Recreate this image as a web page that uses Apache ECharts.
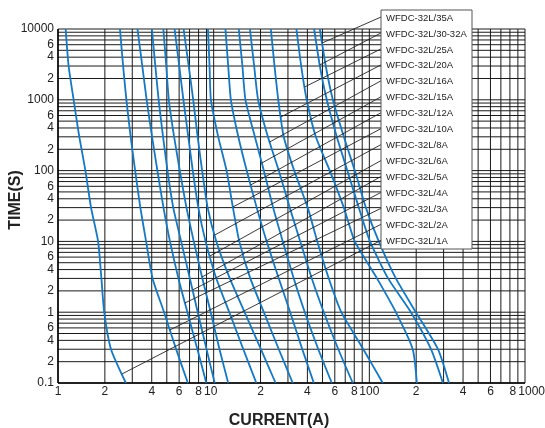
<!DOCTYPE html>
<html>
<head>
<meta charset="utf-8">
<script src="https://cdn.jsdelivr.net/npm/echarts@6/dist/echarts.min.js"></script>
<style>
  html, body { margin: 0; padding: 0; background: #fff; }
  #fuseChart { width: 545px; height: 428px; }
</style>
</head>
<body>
<div id="fuseChart"></div>
<script>
const timeLevels = [10000, 3000, 1000, 300, 100, 30, 10, 3, 1, 0.3, 0.1];

const fuse1A   = [1.12, 1.17, 1.26, 1.37, 1.50, 1.63, 1.81, 1.90, 1.98, 2.19, 2.73];
const fuse2A   = [2.50, 2.62, 2.75, 2.93, 3.13, 3.38, 3.68, 4.05, 4.80, 5.74, 6.83];
const fuse3A   = [3.24, 3.48, 3.71, 4.02, 4.35, 4.76, 5.24, 5.94, 6.78, 7.86, 8.97];
const fuse4A   = [4.01, 4.22, 4.43, 4.73, 5.05, 5.50, 6.18, 7.03, 7.90, 9.00, 10.15];
const fuse5A   = [4.75, 4.96, 5.15, 5.57, 6.06, 6.69, 7.45, 8.46, 9.57, 10.9, 12.4];
const fuse6A   = [5.61, 6.01, 6.39, 6.87, 7.34, 7.97, 8.87, 10.4, 12.6, 15.5, 18.8];
const fuse8A   = [6.41, 6.91, 7.39, 7.89, 8.43, 9.15, 10.4, 12.7, 15.8, 20.1, 25.0];
const fuse10A  = [9.19, 9.41, 9.60, 10.7, 12.1, 13.3, 14.6, 17.2, 21.0, 26.2, 32.2];
const fuse12A  = [11.9, 12.4, 12.9, 14.4, 16.3, 18.9, 21.9, 26.2, 31.0, 37.1, 44.0];
const fuse15A  = [14.5, 15.3, 16.0, 18.4, 21.0, 24.1, 27.8, 32.7, 38.5, 47.0, 57.4];
const fuse16A  = [17.1, 18.2, 19.3, 22.3, 26.2, 30.8, 36.0, 42.7, 51.0, 63.2, 78.3];
const fuse20A  = [23.3, 24.6, 26.0, 28.2, 32.9, 40.2, 46.3, 54.9, 66.1, 91.5, 122];
const fuse25A  = [34.0, 36.5, 39.6, 45.3, 55.7, 68.6, 80.7, 112, 148, 190, 202];
const fuse32A  = [44.2, 48.1, 53.3, 61.8, 72.2, 85.6, 101, 132, 185, 249, 297];
const fuse35A  = [48.1, 52.5, 58.3, 68.6, 80.7, 95.0, 115, 148, 199, 276, 325];

// legend rows, top to bottom, with the curve each leader points at
const labelNames = [
  'WFDC-32L/35A', 'WFDC-32L/30-32A', 'WFDC-32L/25A', 'WFDC-32L/20A', 'WFDC-32L/16A',
  'WFDC-32L/15A', 'WFDC-32L/12A', 'WFDC-32L/10A', 'WFDC-32L/8A', 'WFDC-32L/6A',
  'WFDC-32L/5A', 'WFDC-32L/4A', 'WFDC-32L/3A', 'WFDC-32L/2A', 'WFDC-32L/1A'
];
const labelCurves = [fuse35A, fuse32A, fuse25A, fuse20A, fuse16A, fuse15A, fuse12A,
  fuse10A, fuse8A, fuse6A, fuse5A, fuse4A, fuse3A, fuse2A, fuse1A];
// time (s) where each leader line meets its curve
const leaderTimes = [6340, 3100, 1517, 571, 253, 128, 62.6, 30.6, 12.3, 6.2, 3.14, 2.06, 1.35, 0.56, 0.134];

const xTickValues = [1, 2, 4, 6, 8, 10, 20, 40, 60, 80, 100, 200, 400, 600, 800, 1000];
const xTickText   = ['1', '2', '4', '6', '8', '10', '2', '4', '6', '8', '100', '2', '4', '6', '8', '1000'];
const yTickValues = [0.1, 0.2, 0.4, 0.6, 1, 2, 4, 6, 10, 20, 40, 60, 100, 200, 400, 600, 1000, 2000, 4000, 6000, 10000];
const yTickText   = ['0.1', '2', '4', '6', '1', '2', '4', '6', '10', '2', '4', '6', '100', '2', '4', '6', '1000', '2', '4', '6', '10000'];

const chart = echarts.init(document.getElementById('fuseChart'));

const allCurves = [fuse1A, fuse2A, fuse3A, fuse4A, fuse5A, fuse6A, fuse8A, fuse10A,
  fuse12A, fuse15A, fuse16A, fuse20A, fuse25A, fuse32A, fuse35A];

chart.setOption({
  animation: false,
  backgroundColor: '#fff',
  grid: { left: 58, top: 29, width: 467, height: 354 },
  xAxis: {
    type: 'log', logBase: 10, min: 1, max: 1000,
    axisLine: { show: false }, axisTick: { show: false },
    axisLabel: { show: false }, splitLine: { show: false }
  },
  yAxis: {
    type: 'log', logBase: 10, min: 0.1, max: 10000,
    axisLine: { show: false }, axisTick: { show: false },
    axisLabel: { show: false }, splitLine: { show: false }
  },
  series: allCurves.map((vals, k) => ({
    type: 'line',
    name: 'c' + k,
    data: timeLevels.map((t, i) => [vals[i], t]),
    smooth: 0.2,
    showSymbol: false,
    silent: true,
    z: 3,
    lineStyle: { color: '#1478c4', width: 1.8 }
  }))
});

const px = (v) => chart.convertToPixel({ gridIndex: 0 }, v);

// current on a curve at time t (log-log interpolation between read levels)
function currentAt(vals, t) {
  const lt = Math.log10(t);
  for (let i = 0; i < timeLevels.length - 1; i++) {
    const a = Math.log10(timeLevels[i]), b = Math.log10(timeLevels[i + 1]);
    if (lt <= a && lt >= b) {
      const f = (a - lt) / (a - b);
      return Math.pow(10, Math.log10(vals[i]) + f * (Math.log10(vals[i + 1]) - Math.log10(vals[i])));
    }
  }
  return vals[vals.length - 1];
}

const g = [];
const lineCol = '#1a1a1a';
const font = '12px "Liberation Sans", Arial, sans-serif';

// grid lines 1..9 per decade
const gridX = [], gridY = [];
for (let d = 1; d <= 100; d *= 10) for (let m = 1; m <= 9; m++) gridX.push(m * d);
gridX.push(1000);
for (let d = 0.1; d <= 1000; d *= 10) for (let m = 1; m <= 9; m++) gridY.push(+(m * d).toPrecision(3));
gridY.push(10000);

gridX.forEach(v => {
  const a = px([v, 0.1]), b = px([v, 10000]);
  g.push({ type: 'line', z: 1, silent: true,
    shape: { x1: a[0], y1: a[1], x2: b[0], y2: b[1] },
    style: { stroke: lineCol, lineWidth: 1 } });
});
gridY.forEach(v => {
  const a = px([1, v]), b = px([1000, v]);
  g.push({ type: 'line', z: 1, silent: true,
    shape: { x1: a[0], y1: a[1], x2: b[0], y2: b[1] },
    style: { stroke: lineCol, lineWidth: 1 } });
});
// axis lines
const o = px([1, 0.1]), xe = px([1000, 0.1]), ye = px([1, 10000]);
g.push({ type: 'line', z: 2, shape: { x1: o[0], y1: o[1], x2: xe[0], y2: xe[1] }, style: { stroke: '#000', lineWidth: 1.5 } });
g.push({ type: 'line', z: 2, shape: { x1: o[0], y1: o[1], x2: ye[0], y2: ye[1] }, style: { stroke: '#000', lineWidth: 1.5 } });

// tick labels
xTickValues.forEach((v, i) => {
  const p = px([v, 0.1]);
  let x = p[0], align = 'center';
  if (v === 10) x -= 3;
  if (v === 800) x += 3;
  if (v === 1000) { x = 545; align = 'right'; }
  g.push({ type: 'text', z: 10, x: x, y: p[1] + 9,
    style: { text: xTickText[i], font: font, fill: '#222', align: align, verticalAlign: 'middle' } });
});
yTickValues.forEach((v, i) => {
  const p = px([1, v]);
  g.push({ type: 'text', z: 10, x: p[0] - 4, y: p[1],
    style: { text: yTickText[i], font: font, fill: '#222', align: 'right', verticalAlign: 'middle' } });
});

// axis titles
g.push({ type: 'text', z: 10, x: 15.5, y: 200, rotation: Math.PI / 2,
  style: { text: 'TIME(S)', font: 'bold 16px "Liberation Sans", Arial, sans-serif', fill: '#222', align: 'center', verticalAlign: 'middle' } });
g.push({ type: 'text', z: 10, x: 279, y: 421,
  style: { text: 'CURRENT(A)', font: 'bold 16px "Liberation Sans", Arial, sans-serif', fill: '#222', align: 'center', verticalAlign: 'middle' } });

// leader lines from label box to curves
const boxX = 381, boxY = 10, boxW = 91, boxH = 239, rowY0 = 18, rowGap = 15.95;
labelNames.forEach((name, i) => {
  const t = leaderTimes[i];
  const end = px([currentAt(labelCurves[i], t), t]);
  const y = rowY0 + i * rowGap - 1;
  g.push({ type: 'line', z: 5, silent: true,
    shape: { x1: boxX, y1: y, x2: end[0], y2: end[1] },
    style: { stroke: '#222', lineWidth: 0.9 } });
});

// label box
g.push({ type: 'rect', z: 20, shape: { x: boxX, y: boxY, width: boxW, height: boxH },
  style: { fill: '#fff', stroke: '#555', lineWidth: 1 } });
labelNames.forEach((name, i) => {
  g.push({ type: 'text', z: 21, x: boxX + 5, y: rowY0 + i * rowGap,
    style: { text: name, font: '9.5px "Liberation Sans", Arial, sans-serif', fill: '#222', align: 'left', verticalAlign: 'middle' } });
});

chart.setOption({ graphic: { elements: g } });
</script>
</body>
</html>
